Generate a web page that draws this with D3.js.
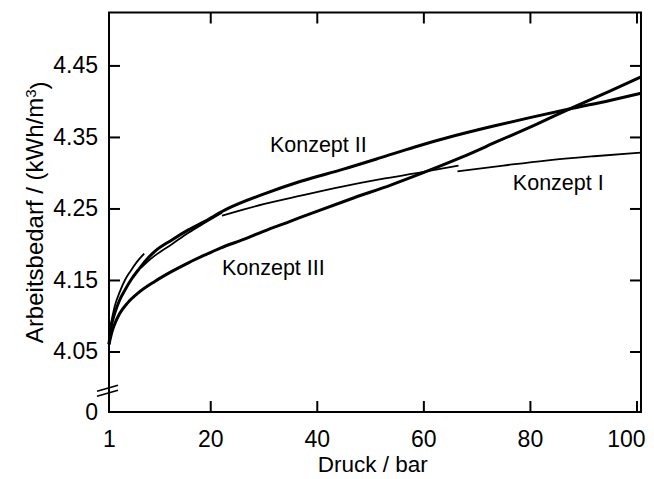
<!DOCTYPE html>
<html>
<head>
<meta charset="utf-8">
<script src="https://cdn.jsdelivr.net/npm/d3@7"></script>
<style>
  html, body { margin: 0; padding: 0; background: #fff; }
  svg { display: block; font-family: "Liberation Sans", Arial, Helvetica, sans-serif; }
</style>
</head>
<body>
<svg id="chart" width="654" height="479"></svg>
<script>
// Specific work demand (kWh/m³) versus final pressure (bar) for three process concepts.

// Konzept II
const pressureII = [1.0, 1.3, 1.7, 2.1, 3.0, 4.0, 5.2, 6.5, 8.0, 9.6, 12.8, 15.9, 19.0, 22.8, 30, 37, 45, 52, 58.4, 66, 73, 80, 88, 95, 100.85];
const workII     = [4.060, 4.080, 4.094, 4.104, 4.122, 4.136, 4.151, 4.164, 4.178, 4.190, 4.206, 4.220, 4.232, 4.248, 4.270, 4.288, 4.305, 4.321, 4.336, 4.352, 4.365, 4.377, 4.390, 4.401, 4.411];

// Konzept III
const pressureIII = [1.0, 1.5, 2.0, 3.0, 4.5, 6.5, 9.6, 12.8, 15.9, 19.0, 22.0, 26, 30, 35, 40, 47, 54, 60, 67, 74, 81, 88, 95, 100.85];
const workIII     = [4.060, 4.076, 4.087, 4.103, 4.118, 4.132, 4.148, 4.162, 4.174, 4.185, 4.195, 4.206, 4.218, 4.232, 4.246, 4.265, 4.283, 4.300, 4.321, 4.344, 4.367, 4.391, 4.414, 4.434];

// Konzept I: one curve piece per compression stage
const pressureIStage1 = [1.0, 1.3, 1.7, 2.1, 3.0, 4.0, 5.0, 6.2, 7.6];
const workIStage1     = [4.060, 4.085, 4.101, 4.114, 4.133, 4.150, 4.162, 4.175, 4.187];
const pressureIStage2 = [7.0, 8.0, 9.6, 12.8, 15.9, 19.0, 22.2];
const workIStage2     = [4.167, 4.174, 4.184, 4.200, 4.216, 4.230, 4.244];
const pressureIStage3 = [22.2, 26, 30, 37, 45, 52, 60, 66.6];
const workIStage3     = [4.240, 4.248, 4.256, 4.268, 4.281, 4.291, 4.301, 4.310];
const pressureIStage4 = [66.4, 75, 83, 92, 100.85];
const workIStage4     = [4.302, 4.310, 4.317, 4.323, 4.328];

// Axis ticks and labels
const xTicks = [1, 20, 40, 60, 80, 100];
const yTicks = [0, 4.05, 4.15, 4.25, 4.35, 4.45];
const yTickLabels = ["0", "4.05", "4.15", "4.25", "4.35", "4.45"];

// Curve annotations
const curveNames    = ["Konzept I", "Konzept II", "Konzept III"];
const namePressure  = [76.8, 31.2, 22.2];
const nameWork      = [4.2765, 4.3285, 4.157];

const svg = d3.select("#chart");
const plotLeft = 109, plotRight = 641, plotTop = 12.5, plotBottom = 412;

const x = d3.scaleLinear().domain([1, 100.85]).range([plotLeft, plotRight]);
// broken value axis: 0 sits at the bottom, the scale proper begins at 4.05
const y = d3.scaleLinear().domain([0, 4.05, 4.524]).range([plotBottom, 351.5, plotTop]);

const fontTick = "23px";

// axes (ticks point inward on all four sides)
const gBottom = svg.append("g").attr("transform", `translate(0,${plotBottom})`)
  .call(d3.axisBottom(x).tickValues(xTicks).tickFormat(d3.format("d"))
        .tickSizeInner(-11).tickSizeOuter(0).tickPadding(19));
const gTop = svg.append("g").attr("transform", `translate(0,${plotTop})`)
  .call(d3.axisTop(x).tickValues(xTicks.slice(1)).tickFormat("")
        .tickSizeInner(-11).tickSizeOuter(0));
const gLeft = svg.append("g").attr("transform", `translate(${plotLeft},0)`)
  .call(d3.axisLeft(y).tickValues(yTicks).tickFormat((d, i) => yTickLabels[i])
        .tickSizeInner(-11).tickSizeOuter(0).tickPadding(11));
const gRight = svg.append("g").attr("transform", `translate(${plotRight},0)`)
  .call(d3.axisRight(y).tickValues(yTicks.slice(1)).tickFormat("")
        .tickSizeInner(-11).tickSizeOuter(0));

[gBottom, gTop, gLeft, gRight].forEach(g => {
  g.select(".domain").remove();
  g.selectAll(".tick line").attr("stroke", "#000").attr("stroke-width", 2);
  g.selectAll(".tick text").attr("fill", "#000")
    .style("font-size", fontTick).style("font-family", "'Liberation Sans', Arial, sans-serif");
});
// no tick mark at the broken-axis zero or at the frame corner
gLeft.selectAll(".tick").filter(d => d === 0).select("line").remove();
gBottom.selectAll(".tick").filter(d => d === 1).select("line").remove();
// last pressure label sits flush with the right frame edge
gBottom.selectAll(".tick").filter(d => d === 100).select("text")
  .attr("text-anchor", "end").attr("x", plotRight + 4 - x(100));

// frame
svg.append("rect")
  .attr("x", plotLeft).attr("y", plotTop)
  .attr("width", plotRight - plotLeft).attr("height", plotBottom - plotTop)
  .attr("fill", "none").attr("stroke", "#000").attr("stroke-width", 2);

// axis break marks
const breakY = (y(0) + y(4.05)) / 2 + 9;
[-2.5, 2.5].forEach(off => {
  svg.append("line")
    .attr("x1", plotLeft - 12).attr("y1", breakY + off + 3)
    .attr("x2", plotLeft + 9).attr("y2", breakY + off - 3)
    .attr("stroke", "#000").attr("stroke-width", 1.8);
});

// curves
const line = d3.line()
  .x(d => x(d[0])).y(d => y(d[1]))
  .curve(d3.curveMonotoneX);

const series = [
  { p: pressureIII, w: workIII, width: 3 },
  { p: pressureII, w: workII, width: 3 },
  { p: pressureIStage1, w: workIStage1, width: 1.8 },
  { p: pressureIStage2, w: workIStage2, width: 1.8 },
  { p: pressureIStage3, w: workIStage3, width: 1.8 },
  { p: pressureIStage4, w: workIStage4, width: 1.8 }
];

series.forEach(s => {
  svg.append("path")
    .datum(d3.zip(s.p, s.w))
    .attr("d", line)
    .attr("fill", "none")
    .attr("stroke", "#000")
    .attr("stroke-width", s.width)
    .attr("stroke-linejoin", "round");
});

// curve names
curveNames.forEach((name, i) => {
  svg.append("text")
    .attr("x", x(namePressure[i])).attr("y", y(nameWork[i]))
    .attr("fill", "#000")
    .style("font-size", "21.5px")
    .text(name);
});

// axis titles
svg.append("text")
  .attr("x", (plotLeft + x(100)) / 2).attr("y", 472)
  .attr("text-anchor", "middle").attr("fill", "#000")
  .style("font-size", "22.5px")
  .text("Druck / bar");

const yTitle = svg.append("text")
  .attr("transform", `translate(43,${(plotTop + plotBottom) / 2}) rotate(-90)`)
  .attr("text-anchor", "middle").attr("fill", "#000")
  .style("font-size", "24px");
yTitle.append("tspan").text("Arbeitsbedarf / (kWh/m");
yTitle.append("tspan").attr("dy", "-0.45em").style("font-size", "15px").text("3");
yTitle.append("tspan").attr("dy", "0.45em").text(")");
</script>
</body>
</html>
